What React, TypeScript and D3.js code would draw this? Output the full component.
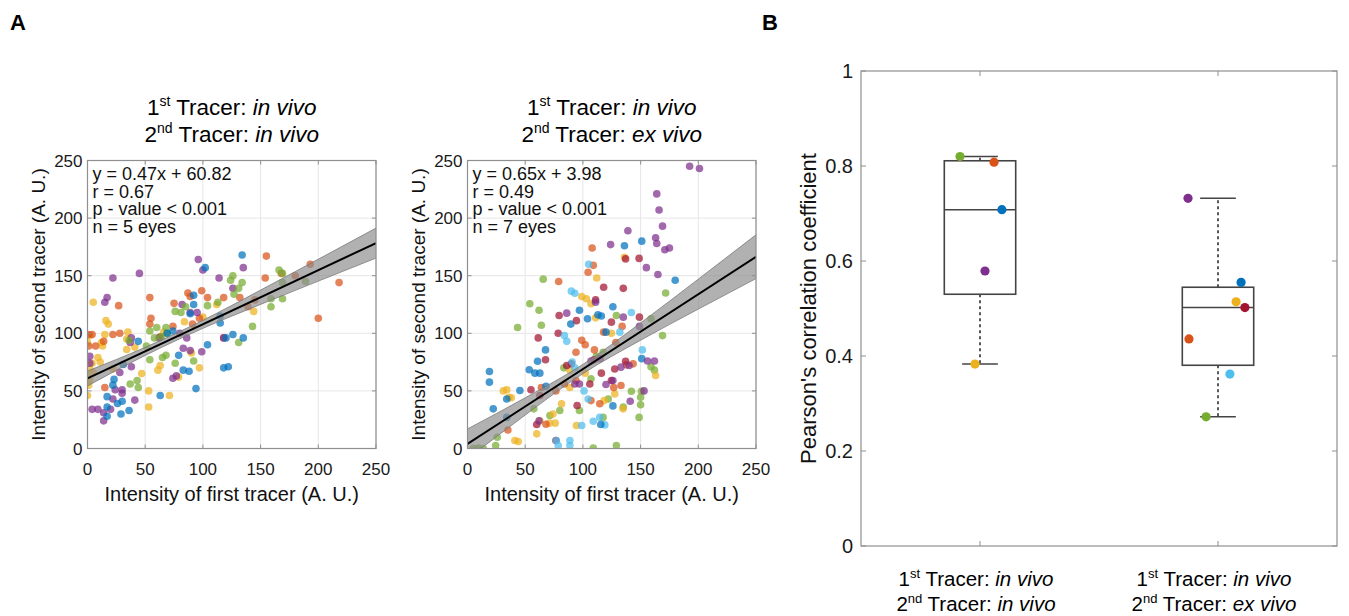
import React from "react";
import * as d3 from "d3";

// ---------- Data ----------
const AXIS_TICKS = [0, 50, 100, 150, 200, 250];
const B_TICKS = [0, 0.2, 0.4, 0.6, 0.8, 1];
const B_TICK_LABELS = ["0", "0.2", "0.4", "0.6", "0.8", "1"];

const COLORS = {
  blue: "#0072BD",
  orange: "#D95319",
  yellow: "#EDB120",
  purple: "#7E2F8E",
  green: "#77AC30",
  lightblue: "#4DBEEE",
  darkred: "#A2142F",
};

// Panel A1 (in vivo / in vivo) points [first, second]
const a1Blue = [[134,168],[102,157],[92,133],[89,117],[92,125],[115,115],[115,109],[126,99],[120,96],[135,96],[104,90],[118,70],[122,71],[88,67],[83,68],[79,81],[94,52],[63,46],[44,93],[31,73],[22,55],[23,60],[17,45],[17,36],[26,39],[30,41],[29,30],[36,33],[17,28],[69,100],[74,102]];
const a1Purple = [[96,164],[100,155],[135,157],[22,148],[45,152],[114,148],[126,139],[17,131],[15,127],[82,125],[89,118],[95,118],[80,100],[86,96],[38,96],[37,92],[38,71],[83,87],[89,85],[99,84],[74,61],[77,63],[2,80],[2,74],[22,43],[24,51],[30,51],[30,48],[41,42],[4,34],[9,34],[14,31],[20,34],[14,24],[118,96],[62,96],[28,66]];
const a1Orange = [[155,167],[193,160],[168,152],[154,148],[218,144],[200,113],[99,137],[104,131],[87,135],[89,132],[54,131],[27,124],[75,126],[118,131],[132,131],[55,113],[54,108],[22,99],[28,100],[74,106],[91,108],[1,99],[4,99],[1,89],[7,89],[14,93],[118,96],[139,123],[145,129],[180,150],[15,53],[97,113],[63,97]];
const a1Yellow = [[5,127],[16,111],[18,108],[15,99],[2,98],[0,92],[12,92],[13,89],[35,101],[34,95],[34,86],[41,88],[9,79],[11,75],[4,74],[2,69],[5,66],[0,63],[2,59],[1,55],[22,69],[0,46],[47,65],[63,72],[61,68],[53,50],[71,46],[53,36],[97,70],[79,62],[84,110],[100,114],[112,125],[144,119],[90,83],[66,101]];
const a1Green = [[166,155],[169,152],[126,150],[134,144],[131,139],[127,134],[169,144],[189,145],[159,130],[169,130],[159,123],[124,146],[104,124],[113,127],[81,118],[76,119],[85,123],[54,102],[60,105],[68,105],[58,96],[69,100],[51,89],[54,77],[65,79],[68,81],[76,74],[92,76],[36,94],[43,59],[44,53],[37,56],[143,106],[131,92],[64,97]];

// Panel A2 (in vivo / ex vivo) points
const a2Purple = [[192.5,245],[201,243],[164,221],[166,207],[169,193],[139,189],[163,183],[164,178],[171,172.5],[175,174],[124,177],[155,157],[165,151],[111,127],[135,114],[86,117.5],[149,106],[156,76],[162,76],[140,72],[133,70.6],[126,59],[120,55.5],[153,50],[141,41],[93,56],[97,56],[115,78],[62,24],[107,76]];
const a2Blue = [[151,180],[136,176],[180,146],[126,123],[113,116],[116,115],[97,120],[89.5,108],[67.6,85.6],[60.7,75.8],[53.5,68.3],[58.4,65.4],[62.7,65.4],[45.4,50.3],[34,43],[19,66.8],[19,57.6],[22.3,34.4],[68,54],[104,112.6],[120,101],[151,78],[34,27],[126,37],[115.5,20.8]];
const a2LightBlue = [[105,160],[90,136.6],[93,134.8],[84,98],[86,93],[142,118],[151.5,85.6],[132,101],[114.6,27],[78.6,2.6],[77,7],[88.7,7],[88.7,2.6],[119,20.5],[104.5,43],[90.7,75],[93,70],[101,50],[109,23.7],[99,20]];
const a2Orange = [[108,174],[109,159],[104.5,153],[79,145],[99,94],[102,90],[94,83.6],[118,101],[128.5,92],[64,53],[35,16],[68,21],[107,41.6],[114.6,38.8],[134,106],[143.5,73.5],[133,54.7],[76.6,50],[84,56],[94,59],[137.7,72.6],[110,85.6],[126.7,53]];
const a2Yellow = [[136,166],[112,148],[99,132],[103,130],[107,125.6],[111,113.4],[31,50],[34,51],[36,44.5],[38,44],[41,7],[44,6],[62.7,24],[74,30],[71,22],[76,22],[60,12.7],[124.7,100],[88.7,67.7],[102,65.4],[118.4,41.6],[127.6,47.4],[134.8,34.4],[163,63.4],[81.5,38.8],[94.4,20],[88.7,53]];
const a2DarkRed = [[118,140],[135,139],[137,164.6],[148.7,165],[111,129],[79.4,115.4],[78.6,100],[61.3,96],[94.4,111],[67.6,77],[55,51],[62.7,46],[124.7,109.7],[137,75.8],[149,114],[127.6,69],[109.7,77],[90,73.5],[86,72],[106,56],[116,65.4],[124.7,59],[76.6,7],[95,37.3],[60,20.8]];
const a2Green = [[65.6,147],[54,125.6],[62,120],[43.4,105],[64,107],[129,115.4],[159,112.6],[169,98],[171.7,135],[159,71],[162,68],[150.7,49.7],[150,44.5],[150,38],[148.7,27],[142,49.7],[111.7,80],[117.5,83.6],[83.5,70],[107,60.5],[80,33],[97,33],[71.4,28.6],[57.5,34.4],[25.8,9.8],[24.4,2.6],[5,0],[9.4,0.3],[13.7,0],[109,0.3],[129,2.6],[117.5,27],[122,43],[135,36]];

// Regression fits and their confidence bands (read at x = 0, 50, ..., 250)
const BAND_X = [0, 50, 100, 150, 200, 250];
const a1Fit = { slope: 0.47, intercept: 60.82 };
const a1BandLo = [54.3, 80.8, 104.3, 125.1, 145.3, 165.3];
const a1BandHi = [67.3, 87.8, 111.3, 137.5, 164.3, 191.3];
const a2Fit = { slope: 0.65, intercept: 3.98 };
const a2BandLo = [-9, 29, 65, 94, 121, 147.5];
const a2BandHi = [17, 44, 73, 109, 147, 185.5];

const a1Stats = ["y = 0.47x + 60.82", "r = 0.67", "p - value < 0.001", "n = 5 eyes"];
const a2Stats = ["y = 0.65x + 3.98", "r = 0.49", "p - value < 0.001", "n = 7 eyes"];

// Panel B: Pearson r per eye and horizontal jitter (category units)
const bInVivo = [0.82, 0.808, 0.708, 0.579, 0.383];
const bInVivoJitter = [-0.084, 0.059, 0.092, 0.021, -0.021];
const bInVivoColors = [COLORS.green, COLORS.orange, COLORS.blue, COLORS.purple, COLORS.yellow];
const bExVivo = [0.732, 0.555, 0.514, 0.502, 0.436, 0.362, 0.272];
const bExVivoJitter = [-0.126, 0.097, 0.076, 0.113, -0.122, 0.05, -0.05];
const bExVivoColors = [COLORS.purple, COLORS.blue, COLORS.yellow, COLORS.darkred, COLORS.orange, COLORS.lightblue, COLORS.green];

// ---------- Helpers ----------
const FONT = "'Liberation Sans', Arial, Helvetica, sans-serif";
const AX_COLOR = "#8f8f8f";
const GRID = "#e6e6e6";

function prctile(values: number[], p: number) {
  const s = [...values].sort((a, b) => a - b);
  const n = s.length;
  const pos = s.map((_, i) => (100 * (i + 0.5)) / n);
  if (p <= pos[0]) return s[0];
  if (p >= pos[n - 1]) return s[n - 1];
  for (let i = 0; i < n - 1; i++) {
    if (p >= pos[i] && p <= pos[i + 1]) {
      const t = (p - pos[i]) / (pos[i + 1] - pos[i]);
      return s[i] + t * (s[i + 1] - s[i]);
    }
  }
  return s[n - 1];
}

function boxStats(values: number[]) {
  const q1 = prctile(values, 25);
  const med = prctile(values, 50);
  const q3 = prctile(values, 75);
  const iqr = q3 - q1;
  const inside = values.filter((v) => v >= q1 - 1.5 * iqr && v <= q3 + 1.5 * iqr);
  return { q1, med, q3, lo: d3.min(inside) as number, hi: d3.max(inside) as number };
}

function TracerTitle({ x, y, second, size, gap }: any) {
  const sup = Math.round(size * 0.62);
  const shift = Math.round(size * 0.38);
  return (
    <g fontFamily={FONT} fontSize={size} fill="#000" textAnchor="middle">
      <text x={x} y={y}>
        1<tspan fontSize={sup} dy={-shift}>st</tspan>
        <tspan dy={shift}> Tracer: </tspan>
        <tspan fontStyle="italic">in vivo</tspan>
      </text>
      <text x={x} y={y + gap}>
        2<tspan fontSize={sup} dy={-shift}>nd</tspan>
        <tspan dy={shift}> Tracer: </tspan>
        <tspan fontStyle="italic">{second}</tspan>
      </text>
    </g>
  );
}

function ScatterPanel({ id, left, groups, fit, bandLo, bandHi, stats, second }: any) {
  const top = 160.5;
  const bottom = 448.5;
  const right = left + 288.5;
  const x = d3.scaleLinear().domain([0, 250]).range([left, right]);
  const y = d3.scaleLinear().domain([0, 250]).range([bottom, top]);
  const area = d3
    .area<number>()
    .x((d) => x(d))
    .y0((_, i) => y(bandLo[i]))
    .y1((_, i) => y(bandHi[i]))
    .curve(d3.curveMonotoneX);
  const upper = d3.line<number>().x((d) => x(d)).y((_, i) => y(bandHi[i])).curve(d3.curveMonotoneX);
  const lower = d3.line<number>().x((d) => x(d)).y((_, i) => y(bandLo[i])).curve(d3.curveMonotoneX);
  const cx = (left + right) / 2;
  const cy = (top + bottom) / 2;
  return (
    <g>
      <defs>
        <clipPath id={id}>
          <rect x={left} y={top} width={right - left} height={bottom - top} />
        </clipPath>
      </defs>
      <rect x={left} y={top} width={right - left} height={bottom - top} fill="#fff" />
      {AXIS_TICKS.map((t) => (
        <g key={"g" + t}>
          <line x1={x(t)} x2={x(t)} y1={top} y2={bottom} stroke={GRID} strokeWidth={1} />
          <line x1={left} x2={right} y1={y(t)} y2={y(t)} stroke={GRID} strokeWidth={1} />
        </g>
      ))}
      <g clipPath={`url(#${id})`}>
        {groups.map((g: any, gi: number) =>
          g.pts.map((p: number[], i: number) => (
            <circle key={gi + "-" + i} cx={x(p[0])} cy={y(p[1])} r={3.8} fill={g.color} fillOpacity={0.72} />
          ))
        )}
        <path d={area(BAND_X) as string} fill="#8c8c8c" fillOpacity={0.68} />
        <path d={upper(BAND_X) as string} fill="none" stroke="#7a7a7a" strokeWidth={0.8} />
        <path d={lower(BAND_X) as string} fill="none" stroke="#7a7a7a" strokeWidth={0.8} />
        <line
          x1={x(0)}
          y1={y(fit.intercept)}
          x2={x(250)}
          y2={y(fit.slope * 250 + fit.intercept)}
          stroke="#000"
          strokeWidth={2}
        />
      </g>
      <rect x={left} y={top} width={right - left} height={bottom - top} fill="none" stroke={AX_COLOR} strokeWidth={1.2} />
      {AXIS_TICKS.map((t) => (
        <g key={"t" + t} stroke={AX_COLOR} strokeWidth={1}>
          <line x1={x(t)} x2={x(t)} y1={bottom} y2={bottom - 4} />
          <line x1={x(t)} x2={x(t)} y1={top} y2={top + 4} />
          <line x1={left} x2={left + 4} y1={y(t)} y2={y(t)} />
          <line x1={right} x2={right - 4} y1={y(t)} y2={y(t)} />
        </g>
      ))}
      <g fontFamily={FONT} fontSize={17} fill="#1a1a1a">
        {AXIS_TICKS.map((t) => (
          <text key={"xl" + t} x={x(t)} y={bottom + 26} textAnchor="middle">
            {t}
          </text>
        ))}
        {AXIS_TICKS.map((t) => (
          <text key={"yl" + t} x={left - 5} y={y(t) + 6} textAnchor="end">
            {t}
          </text>
        ))}
      </g>
      <g fontFamily={FONT} fontSize={18} fill="#111">
        {stats.map((s: string, i: number) => (
          <text key={s} x={left + 5} y={180 + i * 17.7}>
            {s}
          </text>
        ))}
      </g>
      <text x={cx} y={bottom + 52} fontFamily={FONT} fontSize={20} textAnchor="middle" fill="#111">
        Intensity of first tracer (A. U.)
      </text>
      <text
        transform={`translate(${left - 43},${cy}) rotate(-90)`}
        fontFamily={FONT}
        fontSize={19}
        textAnchor="middle"
        fill="#111"
      >
        Intensity of second tracer (A. U.)
      </text>
      <TracerTitle x={cx} y={115} second={second} size={22.5} gap={27} />
    </g>
  );
}

function BoxPanel() {
  const left = 861;
  const right = 1337;
  const top = 71;
  const bottom = 546;
  const x = d3.scaleLinear().domain([0.5, 2.5]).range([left, right]);
  const y = d3.scaleLinear().domain([0, 1]).range([bottom, top]);
  const sets = [
    { pos: 1, vals: bInVivo, jit: bInVivoJitter, cols: bInVivoColors, second: "in vivo" },
    { pos: 2, vals: bExVivo, jit: bExVivoJitter, cols: bExVivoColors, second: "ex vivo" },
  ];
  const halfW = 0.15;
  const capW = 0.075;
  return (
    <g>
      <rect x={left} y={top} width={right - left} height={bottom - top} fill="#fff" stroke={AX_COLOR} strokeWidth={1.2} />
      {B_TICKS.map((t) => (
        <g key={"bt" + t} stroke={AX_COLOR}>
          <line x1={left} x2={left + 5} y1={y(t)} y2={y(t)} />
          <line x1={right} x2={right - 5} y1={y(t)} y2={y(t)} />
        </g>
      ))}
      {sets.map((s) => (
        <g key={"ct" + s.pos} stroke={AX_COLOR}>
          <line x1={x(s.pos)} x2={x(s.pos)} y1={bottom} y2={bottom - 5} />
          <line x1={x(s.pos)} x2={x(s.pos)} y1={top} y2={top + 5} />
        </g>
      ))}
      <g fontFamily={FONT} fontSize={20} fill="#1a1a1a">
        {B_TICKS.map((t, i) => (
          <text key={"bl" + t} x={left - 8} y={y(t) + 7} textAnchor="end">
            {B_TICK_LABELS[i]}
          </text>
        ))}
      </g>
      <text
        transform={`translate(${808},${(top + bottom) / 2}) rotate(-90)`}
        fontFamily={FONT}
        fontSize={22}
        textAnchor="middle"
        dy={8}
        fill="#111"
      >
        Pearson's correlation coefficient
      </text>
      {sets.map((s) => {
        const st = boxStats(s.vals);
        const cx = x(s.pos);
        return (
          <g key={"box" + s.pos}>
            <line x1={cx} x2={cx} y1={y(st.q3)} y2={y(st.hi)} stroke="#222" strokeWidth={1.5} strokeDasharray="3,3" />
            <line x1={cx} x2={cx} y1={y(st.q1)} y2={y(st.lo)} stroke="#222" strokeWidth={1.5} strokeDasharray="3,3" />
            <line x1={x(s.pos - capW)} x2={x(s.pos + capW)} y1={y(st.hi)} y2={y(st.hi)} stroke="#444" strokeWidth={1.5} />
            <line x1={x(s.pos - capW)} x2={x(s.pos + capW)} y1={y(st.lo)} y2={y(st.lo)} stroke="#444" strokeWidth={1.5} />
            <rect
              x={x(s.pos - halfW)}
              y={y(st.q3)}
              width={x(s.pos + halfW) - x(s.pos - halfW)}
              height={y(st.q1) - y(st.q3)}
              fill="none"
              stroke="#444"
              strokeWidth={1.6}
            />
            <line x1={x(s.pos - halfW)} x2={x(s.pos + halfW)} y1={y(st.med)} y2={y(st.med)} stroke="#444" strokeWidth={1.6} />
            {s.vals.map((v, i) => (
              <circle key={i} cx={x(s.pos + s.jit[i])} cy={y(v)} r={4.6} fill={s.cols[i]} />
            ))}
            <TracerTitle x={cx - 4} y={586} second={s.second} size={20.5} gap={25} />
          </g>
        );
      })}
    </g>
  );
}

export default function App() {
  const a1Groups = [
    { color: COLORS.yellow, pts: a1Yellow },
    { color: COLORS.orange, pts: a1Orange },
    { color: COLORS.purple, pts: a1Purple },
    { color: COLORS.green, pts: a1Green },
    { color: COLORS.blue, pts: a1Blue },
  ];
  const a2Groups = [
    { color: COLORS.green, pts: a2Green },
    { color: COLORS.yellow, pts: a2Yellow },
    { color: COLORS.orange, pts: a2Orange },
    { color: COLORS.darkred, pts: a2DarkRed },
    { color: COLORS.lightblue, pts: a2LightBlue },
    { color: COLORS.blue, pts: a2Blue },
    { color: COLORS.purple, pts: a2Purple },
  ];
  return (
    <svg
      width={1349}
      height={616}
      viewBox="0 0 1349 616"
      style={{ position: "absolute", left: 0, top: 0, background: "#fff" }}
    >
      <rect width={1349} height={616} fill="#fff" />
      <text x={10} y={30} fontFamily={FONT} fontSize={22} fontWeight="bold">A</text>
      <text x={762} y={30} fontFamily={FONT} fontSize={22} fontWeight="bold">B</text>
      <ScatterPanel
        id="clipA1"
        left={87.5}
        groups={a1Groups}
        fit={a1Fit}
        bandLo={a1BandLo}
        bandHi={a1BandHi}
        stats={a1Stats}
        second="in vivo"
      />
      <ScatterPanel
        id="clipA2"
        left={467.5}
        groups={a2Groups}
        fit={a2Fit}
        bandLo={a2BandLo}
        bandHi={a2BandHi}
        stats={a2Stats}
        second="ex vivo"
      />
      <BoxPanel />
    </svg>
  );
}
